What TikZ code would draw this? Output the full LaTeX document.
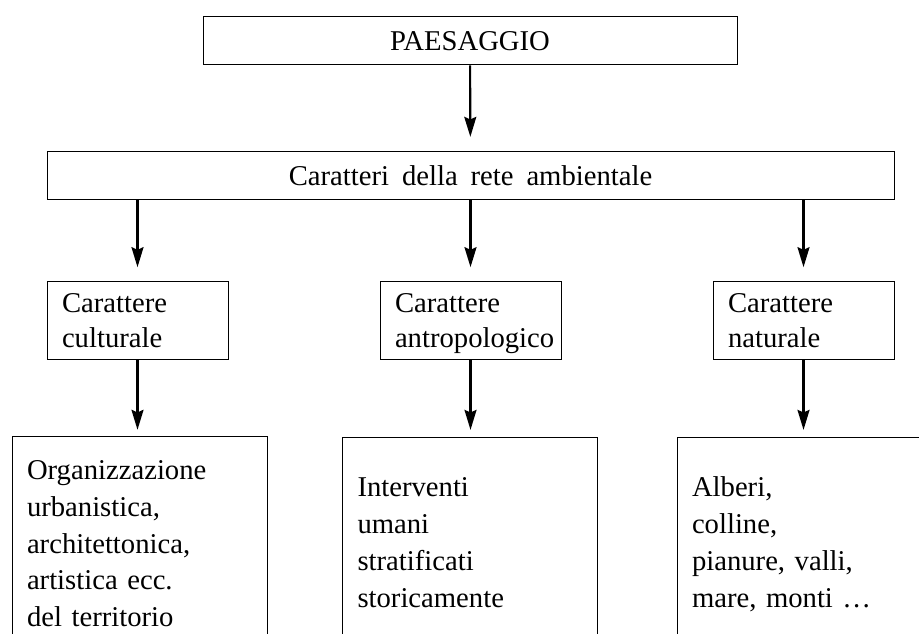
\documentclass[tikz,border=0pt]{standalone}
\usepackage{fontspec}
\setmainfont{Liberation Serif}[WordSpace=1.8]
\usetikzlibrary{arrows.meta}
\newcommand\bigfont[1][26.6]{\fontsize{21.5}{#1}\selectfont}
\tikzset{
  box/.style={draw,line width=0.75pt,font=\bigfont},
  headbox/.style={box,inner sep=0pt,minimum height=36pt},
  textbox/.style={box,inner xsep=11.25pt,inner ysep=0pt,align=left,
    execute at begin node={\rule{0pt}{20pt}},
    execute at end node={\rule[-5.4pt]{0pt}{5.4pt}}},
  midbox/.style={textbox,text width=113.25pt,minimum height=58.5pt},
  lowbox/.style={textbox,font=\bigfont[27.6],text width=168.75pt,minimum height=#1},
  arr/.style={line width=1.6pt,-{Stealth[length=15pt,width=9pt,inset=2pt]}},
}
\begin{document}
\begin{tikzpicture}[x=0.75pt,y=-0.75pt]
  \clip[use as bounding box] (0,0) rectangle (919,634);
  \node[headbox,minimum width=400.5pt] (paes) at (470,41) {PAESAGGIO};
  \node[headbox,minimum width=635.25pt] (rete) at (470.5,176) {Caratteri della rete ambientale};
  \node[midbox] (cult) at (137.5,320) {Carattere\\culturale};
  \node[midbox] (antr) at (470.5,320) {Carattere\\\mbox{antropologico}};
  \node[midbox] (nat) at (803.5,320) {Carattere\\naturale};
  \node[lowbox=159.5pt] (org) at (139.5,543.3) {Organizzazione\\urbanistica,\\architettonica,\\artistica ecc.\\del territorio};
  \node[lowbox=157.6pt] (interv) at (470,542.1) {Interventi\\umani\\stratificati\\storicamente};
  \node[lowbox=157.6pt] (alberi) at (804.5,542.1) {Alberi,\\colline,\\pianure, valli,\\mare, monti …};
  \draw[arr,shorten >=11pt] (paes) -- (rete);
  \foreach \a/\b in {cult/org,antr/interv,nat/alberi} {
    \draw[arr,shorten >=10pt] (rete.south -| \a.north) -- (\a);
    \draw[arr,shorten >=5pt] (\a) -- (\a.south |- \b.north);
  }
\end{tikzpicture}
\end{document}
